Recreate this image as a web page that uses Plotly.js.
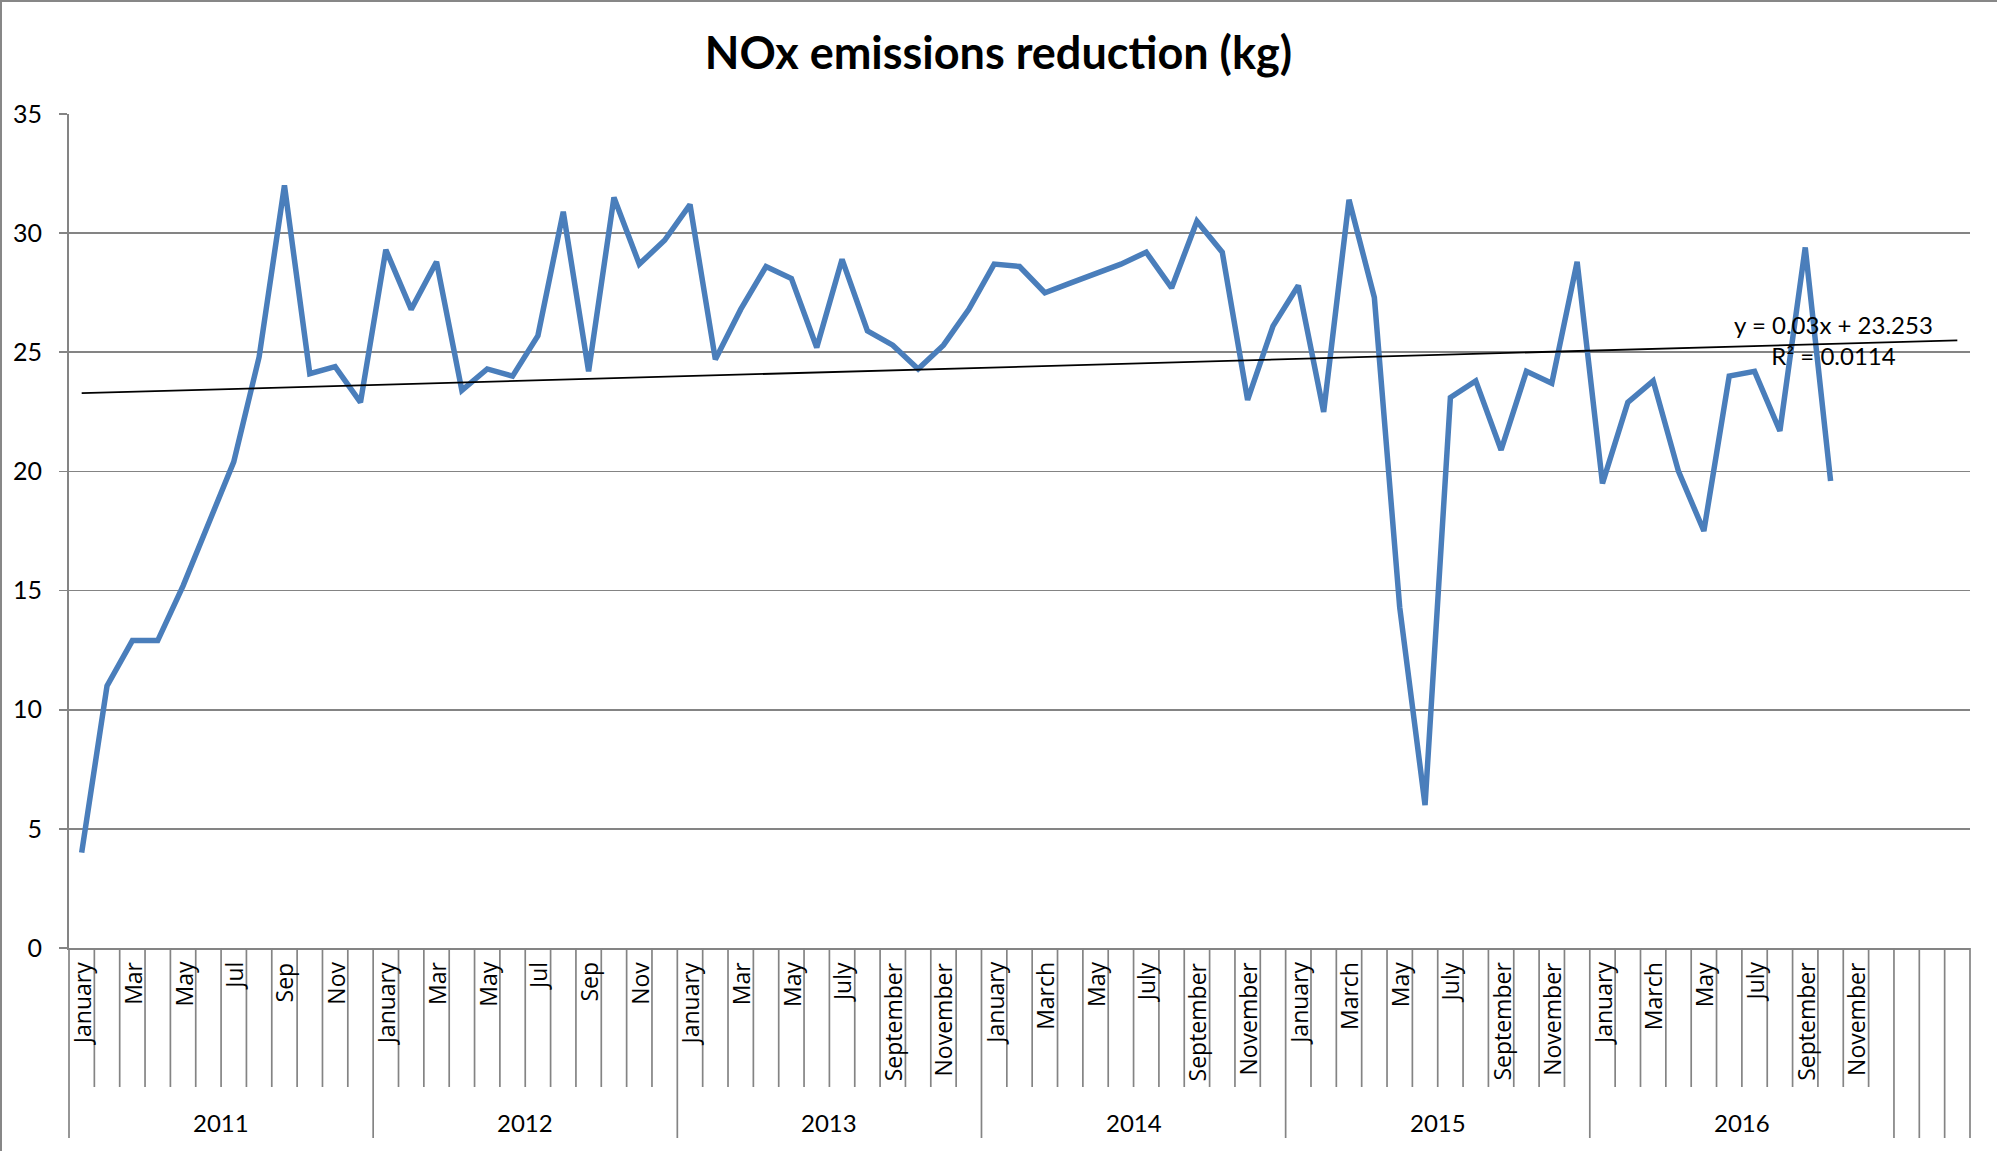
<!DOCTYPE html>
<html><head><meta charset="utf-8">
<script src="https://cdn.plot.ly/plotly-3.0.1.min.js"></script>
<style>
html,body{margin:0;padding:0;background:#fff;}
#wrap{position:relative;width:1997px;height:1151px;}
#chart{width:1997px;height:1151px;}
#frame{position:absolute;left:0;top:0;width:1997px;height:1151px;box-sizing:border-box;border-left:2px solid #878787;border-top:2px solid #878787;pointer-events:none;}
</style>
</head><body>
<div id="wrap"><div id="chart"></div><div id="frame"></div></div>
<script>
// ---- data ----
const chartTitle = 'NOx emissions reduc\u200Ction (kg)';
const years = ['2011', '2012', '2013', '2014', '2015', '2016'];
const months2011 = ['January','Feb','Mar','Apr','May','Jun','Jul','Aug','Sep','Oct','Nov','Dec'];
const months2012 = ['January','Feb','Mar','Apr','May','Jun','Jul','Aug','Sep','Oct','Nov','Dec'];
const months2013 = ['January','February','Mar','April','May','June','July','August','September','October','November','December'];
const months2014 = ['January','February','March','April','May','June','July','August','September','October','November','December'];
const months2015 = ['January','February','March','April','May','June','July','August','September','October','November','December'];
const months2016 = ['January','February','March','April','May','June','July','August','September','October','November','December'];
const trailingBlankCategories = ['', '', ''];

const values2011 = [4.0, 11.0, 12.9, 12.9, 15.2, 17.8, 20.4, 24.8, 32.0, 24.1, 24.4, 22.9];
const values2012 = [29.3, 26.8, 28.8, 23.4, 24.3, 24.0, 25.7, 30.9, 24.2, 31.5, 28.7, 29.7];
const values2013 = [31.2, 24.7, 26.8, 28.6, 28.1, 25.2, 28.9, 25.9, 25.3, 24.3, 25.3, 26.8];
const values2014 = [28.7, 28.6, 27.5, 27.9, 28.3, 28.7, 29.2, 27.7, 30.5, 29.2, 23.0, 26.1];
const values2015 = [27.8, 22.5, 31.4, 27.3, 14.3, 6.0, 23.1, 23.8, 20.9, 24.2, 23.7, 28.8];
const values2016 = [19.5, 22.9, 23.8, 20.0, 17.5, 24.0, 24.2, 21.7, 29.4, 19.6];

// trendline as shown on the chart: y = 0.03x + 23.253, R² = 0.0114
const trendSlope = 0.03;
const trendIntercept = 23.253;
const trendR2 = '0.0114';

const yTickValues = [0, 5, 10, 15, 20, 25, 30, 35];

// ---- build categories ----
const monthsByYear = [months2011, months2012, months2013, months2014, months2015, months2016];
const valuesByYear = [values2011, values2012, values2013, values2014, values2015, values2016];

const cats = [];
const xs = [], ys = [];
let idx = 1;
years.forEach((yr, yi) => {
  monthsByYear[yi].forEach((m, mi) => {
    cats.push({label: m, group: yi, pos: mi, idx: idx});
    if (mi < valuesByYear[yi].length) { xs.push(idx); ys.push(valuesByYear[yi][mi]); }
    idx++;
  });
});
trailingBlankCategories.forEach(lbl => { cats.push({label: lbl, group: null, pos: 0, idx: idx}); idx++; });
const nCats = cats.length;

// ---- layout geometry ----
const W = 1997, H = 1151;
const M = {l: 69, r: 27, t: 114, b: 203};
const plotH = H - M.t - M.b;
const px2paperY = p => -p / plotH; // pixels below the x axis -> paper y
const GRID = '#848484';
const FONT = 'Lato, "Open Sans", sans-serif';
const LABEL_FONT = '"Open Sans", Lato, sans-serif';

const shapes = [];
const groupStarts = new Set();
cats.forEach((c, i) => { if (i === 0 || c.group === null || c.group !== cats[i - 1].group) groupStarts.add(i); });
for (let b = 0; b <= nCats; b++) {
  const isLong = b === 0 || b === nCats || groupStarts.has(b);
  const yEnd = px2paperY(isLong ? 190 : 139);
  const edge = (b === 0 || b === nCats);
  shapes.push({
    type: 'line', layer: 'above',
    xref: edge ? 'paper' : 'x', yref: 'paper',
    x0: edge ? (b === 0 ? 0 : 1) : b + 0.5, x1: edge ? (b === 0 ? 0 : 1) : b + 0.5,
    y0: 0, y1: yEnd,
    line: {color: GRID, width: 1.7}
  });
}

const annotations = [];
cats.forEach(c => {
  if (c.label && c.pos % 2 === 0) {
    annotations.push({
      text: c.label, xref: 'x', yref: 'paper', x: c.idx, y: 0,
      xanchor: 'center', yanchor: 'top', yshift: -12, textangle: -90,
      showarrow: false, font: {family: LABEL_FONT, size: 23, color: '#000'}
    });
  }
});
years.forEach((yr, yi) => {
  const members = cats.filter(c => c.group === yi);
  const mid = (members[0].idx + members[members.length - 1].idx) / 2;
  annotations.push({
    text: yr, xref: 'x', yref: 'paper', x: mid, y: px2paperY(174),
    xanchor: 'center', yanchor: 'middle', showarrow: false,
    font: {family: FONT, size: 24, color: '#000'}
  });
});
annotations.push({
  text: 'y = ' + trendSlope.toFixed(2) + 'x + ' + trendIntercept.toFixed(3) + '<br>R² = ' + trendR2,
  xref: 'x', yref: 'y', x: 70.1, y: 25.5, xanchor: 'center', yanchor: 'middle',
  align: 'center', showarrow: false, font: {family: FONT, size: 24, color: '#000'}
});

const trendX = [1, nCats];
const trendY = trendX.map(x => trendSlope * x + trendIntercept);

const traces = [
  {x: xs, y: ys, type: 'scatter', mode: 'lines', line: {color: '#4a7ebb', width: 5.5}, hoverinfo: 'skip', cliponaxis: false},
  {x: trendX, y: trendY, type: 'scatter', mode: 'lines', line: {color: '#000', width: 1.8}, hoverinfo: 'skip'}
];

const layout = {
  width: W, height: H,
  margin: M,
  paper_bgcolor: '#fff', plot_bgcolor: '#fff',
  showlegend: false,
  title: {text: '<b>' + chartTitle + '</b>', x: 0.5, xref: 'container', y: 1 - 53 / H, yref: 'container',
          xanchor: 'center', yanchor: 'middle', font: {family: FONT, size: 45, color: '#000'}},
  xaxis: {type: 'linear', range: [0.5, nCats + 0.5], showticklabels: false, ticks: '', showgrid: false,
          zeroline: false, showline: true, linecolor: GRID, linewidth: 1.7, fixedrange: true},
  yaxis: {range: [0, 35], tickvals: yTickValues, ticktext: yTickValues.map(String), showgrid: true, gridcolor: GRID, gridwidth: 1.6,
          zeroline: false, showline: true, linecolor: GRID, linewidth: 1.9, ticks: 'outside', ticklen: 8,
          tickcolor: GRID, tickwidth: 1.7, ticklabelstandoff: 12,
          tickfont: {family: FONT, size: 25, color: '#000'}, fixedrange: true},
  shapes: shapes,
  annotations: annotations
};

Plotly.newPlot('chart', traces, layout, {staticPlot: true, displayModeBar: false});
</script>
</body></html>
